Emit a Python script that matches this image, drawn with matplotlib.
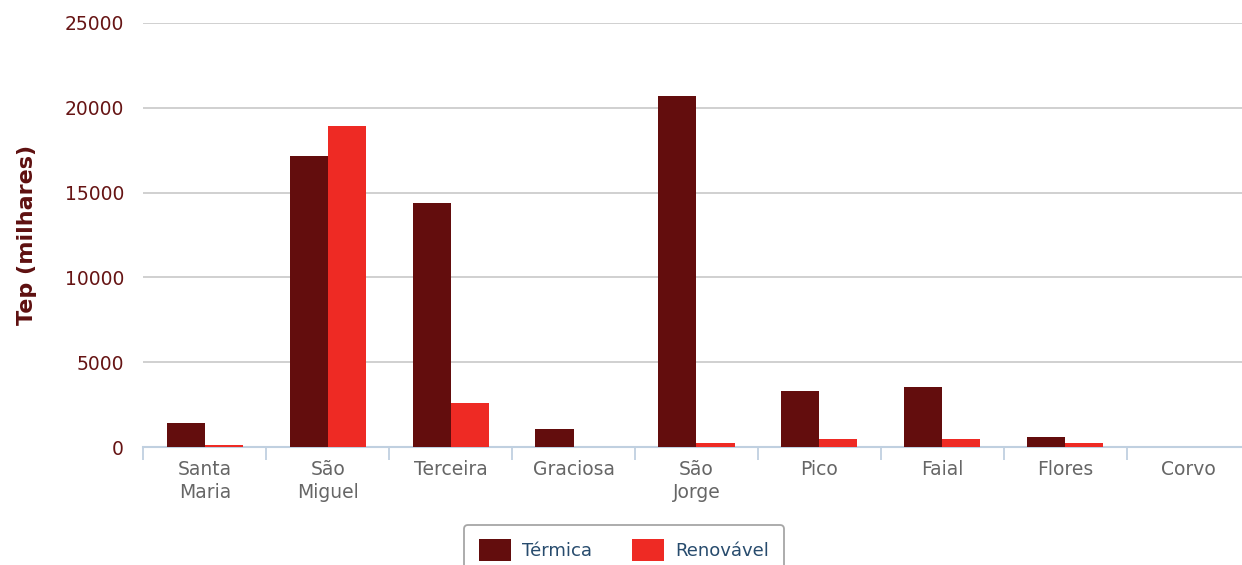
import matplotlib.pyplot as plt
import numpy as np
from matplotlib.patches import Patch

ilhas = ["Santa\nMaria", "São\nMiguel", "Terceira", "Graciosa", "São\nJorge",
         "Pico", "Faial", "Flores", "Corvo"]
termica = [1420, 17150, 14380, 1070, 20700, 3320, 3560, 600, 0]
renovavel = [130, 18900, 2620, 0, 240, 480, 480, 250, 0]

cor_termica = "#630d0d"
cor_renov = "#ee2a24"
cor_eixo = "#c0d0e0"

plt.rcParams["font.family"] = ["DejaVu Sans"]

fig = plt.figure(figsize=(12.42, 5.65), dpi=100)
ax = fig.add_axes([0.1155, 0.2088, 0.8905, 0.7506])

x = np.arange(len(ilhas))
w = 0.31
ax.bar(x - w / 2, termica, width=w, color=cor_termica, zorder=3)
ax.bar(x + w / 2, renovavel, width=w, color=cor_renov, zorder=3)

ax.set_xlim(-0.5, len(ilhas) - 0.5)
ax.set_ylim(0, 25000)
ax.set_yticks(np.arange(0, 25001, 5000))
ax.yaxis.grid(True, color="#c8c8c8", linewidth=1.2, zorder=0)

# category labels at the centres, tick marks on the boundaries
ax.set_xticks(x)
ax.set_xticklabels(ilhas, fontsize=13.5, color="#666666", linespacing=1.3)
ax.set_xticks(np.arange(-0.5, len(ilhas)), minor=True)
ax.tick_params(axis="x", which="major", length=0, pad=9)
ax.tick_params(axis="x", which="minor", length=9, width=1.3, color=cor_eixo)
ax.tick_params(axis="y", length=0, pad=14, labelsize=13.5, labelcolor="#661414")

for lado in ["top", "right", "left"]:
    ax.spines[lado].set_visible(False)
ax.spines["bottom"].set_color(cor_eixo)
ax.spines["bottom"].set_linewidth(1.5)

ax.set_ylabel("Tep (milhares)", fontsize=16, fontweight="bold", color="#5e1010",
              labelpad=20)

handles = [Patch(facecolor=cor_termica, label="Térmica"),
           Patch(facecolor=cor_renov, label="Renovável")]
leg = fig.legend(handles=handles, loc="upper center", ncol=2,
                 bbox_to_anchor=(624 / 1242, 1 - 525 / 565),
                 frameon=True, fancybox=True, fontsize=13,
                 handlelength=1.8, handleheight=1.5, columnspacing=2.2,
                 handletextpad=0.6, borderpad=0.8, borderaxespad=0)
leg.get_frame().set_edgecolor("#909090")
leg.get_frame().set_linewidth(1.3)
for t in leg.get_texts():
    t.set_color("#274b6d")

fig.savefig("out.png", dpi=100)
